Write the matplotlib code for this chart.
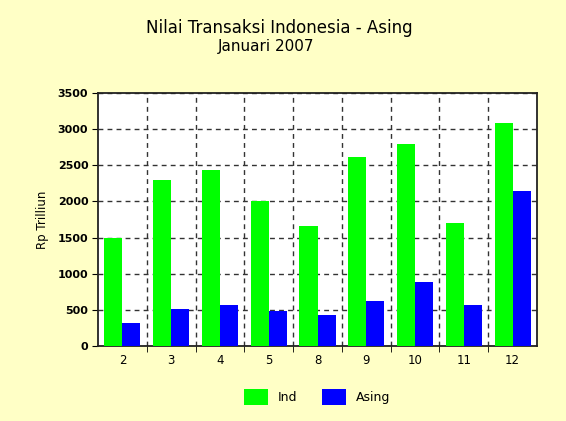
import matplotlib
matplotlib.use("Agg")
import matplotlib.pyplot as plt
import numpy as np

days = ["2", "3", "4", "5", "8", "9", "10", "11", "12"]
ind_vals = [1490, 2290, 2440, 2010, 1660, 2620, 2790, 1700, 3090]
asing_vals = [320, 510, 570, 490, 430, 620, 880, 570, 2150]
yticks = [0, 500, 1000, 1500, 2000, 2500, 3000, 3500]

bg = "#FFFFC6"
fig = plt.figure(figsize=(5.66, 4.21), dpi=100, facecolor=bg)
ax = fig.add_axes([98/566, 1-346/421, (537-98)/566, (346-93)/421])
ax.set_facecolor("white")

x = np.arange(len(days))
w = 0.37
ax.bar(x - w/2, ind_vals, w, color="#00FF00", label="Ind", zorder=3)
ax.bar(x + w/2, asing_vals, w, color="#0000FF", label="Asing", zorder=3)

ax.set_xlim(-0.5, len(days) - 0.5)
ax.set_ylim(0, 3500)
ax.set_yticks(yticks)
ax.set_yticklabels([str(v) for v in yticks], fontsize=8, fontweight="bold")
ax.set_xticks(x)
ax.set_xticklabels(days, fontsize=8.5)
ax.set_xticks(np.arange(len(days) - 1) + 0.5, minor=True)
ax.tick_params(axis="x", which="major", length=0, pad=6)
ax.tick_params(axis="x", which="minor", length=4, direction="out")
ax.tick_params(axis="y", length=4, direction="out", pad=3)

ax.grid(axis="y", which="major", color="#333333", linestyle=(0, (3.5, 3)), linewidth=1, zorder=1)
ax.grid(axis="x", which="minor", color="#333333", linestyle=(0, (3.5, 3)), linewidth=1, zorder=1)
for s in ax.spines.values():
    s.set_linewidth(1.3)
    s.set_color("#222222")

ax.set_ylabel("Rp Trilliun", fontsize=8.5, labelpad=6)

fig.text(279/566, 1-28/421, "Nilai Transaksi Indonesia - Asing", ha="center", va="center", fontsize=12)
fig.text(266/566, 1-47/421, "Januari 2007", ha="center", va="center", fontsize=11)

fig.legend(loc="center", bbox_to_anchor=(0.56, 1-397/421), ncol=2, frameon=False,
           fontsize=9, handlelength=1.9, handleheight=1.6, columnspacing=2.0, handletextpad=0.8)

fig.savefig("out.png", dpi=100, facecolor=bg)
